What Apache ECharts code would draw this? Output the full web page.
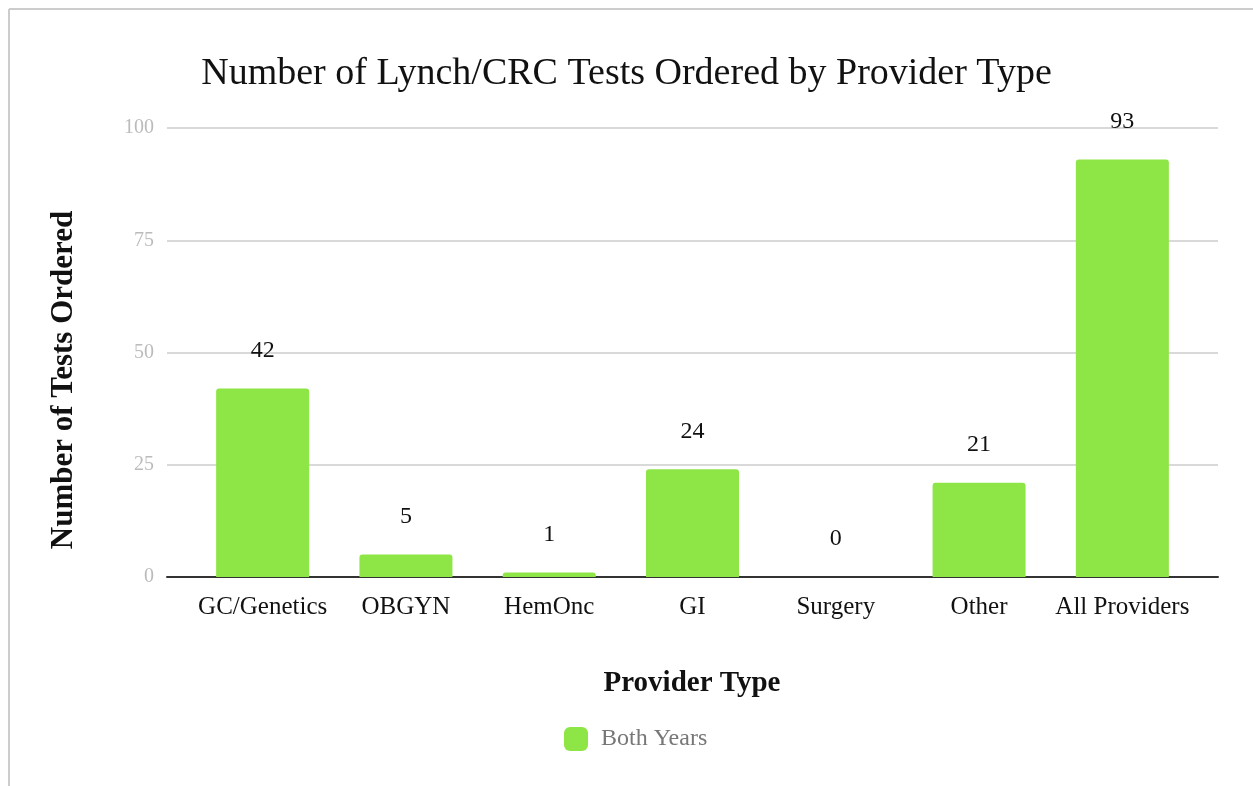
<!DOCTYPE html>
<html><head><meta charset="utf-8">
<script src="https://cdn.jsdelivr.net/npm/echarts@6/dist/echarts.min.js"></script>
<style>html,body{margin:0;padding:0;background:#fff}#c{width:1253px;height:786px}</style>
</head><body><div id="c"></div>
<script>
const categories = ['GC/Genetics','OBGYN','HemOnc','GI','Surgery','Other','All Providers'];
const bothYears = [42,5,1,24,0,21,93];
const yTicks = [0,25,50,75,100];
const seriesName = 'Both Years';
const FONT = '"Liberation Serif","DejaVu Serif",serif';
const chart = echarts.init(document.getElementById('c'));
chart.setOption({
  animation:false,
  backgroundColor:'#fff',
  title:{text:'Number of Lynch/CRC Tests Ordered by Provider Type',left:'center',top:50,
    textStyle:{fontFamily:FONT,fontSize:38,fontWeight:'normal',color:'#111'}},
  legend:{data:[seriesName],left:559,top:722,itemWidth:24,itemHeight:24,icon:'roundRect',itemGap:10,
    textStyle:{fontFamily:FONT,fontSize:24,color:'#777',padding:[0,0,0,8]}},
  grid:[{left:167,right:35,top:128,bottom:209},{left:191,right:59,top:128,bottom:209}],
  xAxis:[
    {gridIndex:0,type:'category',data:categories,axisLabel:{show:false},axisTick:{show:false},
      axisLine:{show:true,lineStyle:{color:'#333',width:2}}},
    {gridIndex:1,type:'category',data:categories,axisTick:{show:false},axisLine:{show:false},
      axisLabel:{fontFamily:FONT,fontSize:25,color:'#111',margin:18,interval:0}}
  ],
  yAxis:[
    {gridIndex:0,type:'value',min:yTicks[0],max:yTicks[yTicks.length-1],interval:25,
      axisLine:{show:false},axisTick:{show:false},
      axisLabel:{fontFamily:FONT,fontSize:20,color:'#bbb',margin:13},
      splitLine:{lineStyle:{color:'#ccc',width:1.5}}},
    {gridIndex:1,type:'value',min:yTicks[0],max:yTicks[yTicks.length-1],interval:25,show:false,splitLine:{show:false}}
  ],
  series:[{name:seriesName,type:'bar',xAxisIndex:1,yAxisIndex:1,data:bothYears,barWidth:93,
    itemStyle:{color:'#8EE546',borderRadius:[3,3,0,0]},
    label:{show:true,position:'top',distance:26,fontFamily:FONT,fontSize:24,color:'#111'}}],
  graphic:[
    {type:'line',shape:{x1:9,y1:9,x2:1253,y2:9},style:{stroke:'#ccc',lineWidth:2}},
    {type:'line',shape:{x1:9,y1:9,x2:9,y2:786},style:{stroke:'#ccc',lineWidth:2}},
    {type:'text',x:64,y:380,rotation:Math.PI/2,style:{text:'Number of Tests Ordered',font:'bold 31px '+FONT,fill:'#111',textAlign:'center',textVerticalAlign:'middle'}},
    {type:'text',x:692,y:684,style:{text:'Provider Type',font:'bold 29px '+FONT,fill:'#111',textAlign:'center',textVerticalAlign:'middle'}}
  ]
});
</script></body></html>
